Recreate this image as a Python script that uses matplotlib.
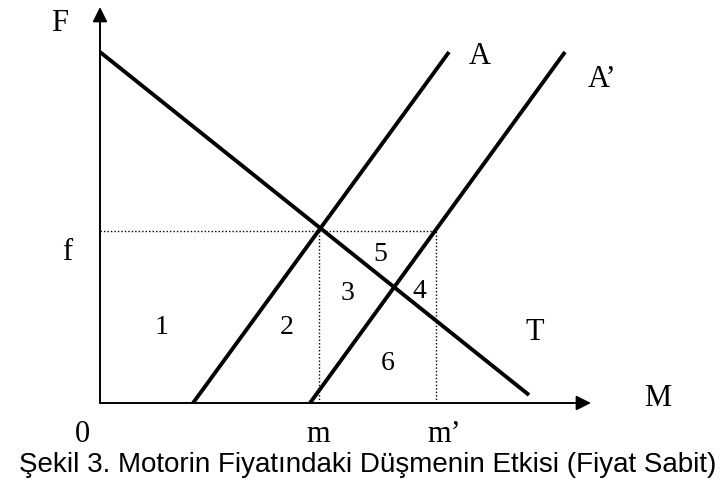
import matplotlib.pyplot as plt

# diagram units: origin of the axes at (0, 0)
t_line = ([0.0, 42.9], [35.1, 0.8])      # demand T
a_line = ([9.3, 34.9], [0.0, 35.1])      # supply A
a2_line = ([21.0, 46.5], [0.0, 35.1])    # supply A'
f_level = 17.2
m_val = 21.9
m2_val = 33.6
x_end = 49.1
y_end = 39.6

region_labels = ['1', '2', '3', '4', '5', '6']
region_pos = [(6.2, 7.6), (18.7, 7.6), (24.8, 11.0), (31.9, 11.1), (28.0, 14.8), (28.8, 4.0)]

fig = plt.figure(figsize=(7.26, 4.87), dpi=100)
ax = fig.add_axes([0, 0, 1, 1])
ax.set_xlim(-10, 62.6)
ax.set_ylim(-8.4, 40.3)
ax.axis('off')

serif = 'Liberation Serif'

# axes with arrows
ax.annotate('', xy=(x_end, 0), xytext=(0, 0),
            arrowprops=dict(arrowstyle='-|>', lw=1.4, color='black', mutation_scale=22, shrinkA=0, shrinkB=0))
ax.annotate('', xy=(0, y_end), xytext=(0, 0),
            arrowprops=dict(arrowstyle='-|>', lw=1.4, color='black', mutation_scale=22, shrinkA=0, shrinkB=0))

# dotted guides
ax.plot([0, m2_val], [f_level, f_level], color='black', lw=1.0, ls=(0, (1, 1.5)))
ax.plot([m_val, m_val], [0, f_level], color='black', lw=1.0, ls=(0, (1, 1.5)))
ax.plot([m2_val, m2_val], [0, f_level], color='black', lw=1.0, ls=(0, (1, 1.5)))

for xs, ys in [t_line, a_line, a2_line]:
    ax.plot(xs, ys, color='black', lw=2.8, solid_capstyle='butt')

big = 22
small = 20
ax.text(-4.0, 37.9, 'F', fontsize=big, family=serif, ha='center', va='center')
ax.text(38.0, 34.6, 'A', fontsize=big, family=serif, ha='center', va='center')
ax.text(50.2, 32.3, 'A’', fontsize=big, family=serif, ha='center', va='center')
ax.text(43.5, 7.1, 'T', fontsize=big, family=serif, ha='center', va='center')
ax.text(55.8, 0.5, 'M', fontsize=big, family=serif, ha='center', va='center')
ax.text(-3.3, 15.0, 'f', fontsize=big, family=serif, ha='center', va='center')
ax.text(-1.8, -3.2, '0', fontsize=big, family=serif, ha='center', va='center')
ax.text(m_val - 0.1, -3.2, 'm', fontsize=big, family=serif, ha='center', va='center')
ax.text(m2_val + 0.8, -3.2, 'm’', fontsize=big, family=serif, ha='center', va='center')

for lab, (x, y) in zip(region_labels, region_pos):
    ax.text(x, y, lab, fontsize=small, family=serif, ha='center', va='center')

ax.text(26.8, -6.2, 'Şekil 3. Motorin Fiyatındaki Düşmenin Etkisi (Fiyat Sabit)',
        fontsize=20, family='Liberation Sans', ha='center', va='center')

fig.savefig('out.png', dpi=100)
